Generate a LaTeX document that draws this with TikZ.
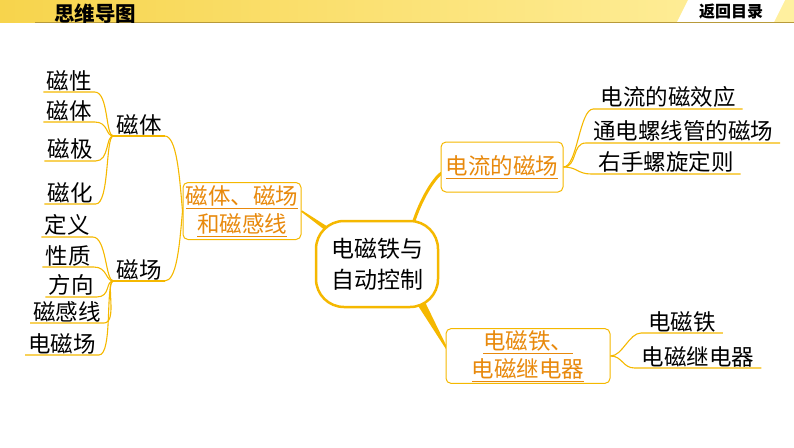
\documentclass[tikz,border=0pt]{standalone}
\usepackage{fontspec}
\setmainfont{Noto Sans CJK SC}
\usetikzlibrary{positioning, calc, backgrounds}
\definecolor{gold}{HTML}{F5B800}
\definecolor{bandL}{HTML}{F7D44C}
\definecolor{bandR}{HTML}{FFF0A0}
\definecolor{txtorange}{HTML}{E8890C}
\definecolor{bandline}{HTML}{B89A3A}

\tikzset{
  leaf/.style={font=\fontsize{22.5}{24}\selectfont, inner xsep=3pt, inner ysep=1pt, anchor=south},
  rleaf/.style={leaf, inner xsep=7pt},
  topic/.style={draw=gold, line width=1pt, rounded corners=5pt, fill=white, align=center,
    text=txtorange, font=\fontsize{22.5}{28}\selectfont, inner sep=2pt},
  twig/.style={draw=gold, line width=1.1pt},
  branch/.style={fill=gold}
}

\begin{document}
\begin{tikzpicture}[x=1pt, y=-1pt]
\useasboundingbox (0,0) rectangle (794,447);

% header
\shade[left color=bandL, right color=bandR] (0,0) rectangle (794,22);
\fill[white] (677,22) -- (688,0) -- (785,0) -- (774,22) -- cycle;
\draw[bandline, line width=1pt] (35,22.5) -- (794,22.5);
\node[font=\fontsize{20.5}{21}\selectfont\bfseries, anchor=base] (title) at (95,21.5) {思维导图};
\node[font=\fontsize{16}{16}\selectfont\bfseries, anchor=base] (back) at (731,17.5) {返回目录};

% centre
\node[draw=gold, line width=2.5pt, rounded corners=28pt, fill=white, minimum width=122pt,
  minimum height=86pt, align=center, font=\fontsize{23}{31}\selectfont] (core) at (377,264)
  {电磁铁与\\自动控制};

% main topics
\node[topic, minimum width=118pt, minimum height=57pt] (cigan) at (242,211)
  {\underline{磁体、磁场}\\\underline{和磁感线}};
\node[topic, minimum width=122pt, minimum height=50pt] (dlcc) at (502,167)
  {\underline{电流的磁场}};
\node[topic, minimum width=164pt, minimum height=54pt] (dct) at (528,356)
  {\underline{电磁铁、}\\\underline{电磁继电器}};

% left: sub topics
\node[leaf] (ct) at (139,136) {磁体};
\node[leaf] (cc) at (139,281) {磁场};

% left: leaves of 磁体
\node[leaf] (mx) at (69,92) {磁性};
\node[leaf] (mt) at (69,122) {磁体};
\node[leaf] (mj) at (70,161) {磁极};
\node[leaf] (mh) at (70,204) {磁化};

% left: leaves of 磁场
\node[leaf] (dy) at (67,237) {定义};
\node[leaf] (xz) at (68,267) {性质};
\node[leaf] (fx) at (71,297) {方向};
\node[leaf] (gx) at (67,323) {磁感线};
\node[leaf] (dcc) at (62,355) {电磁场};

% right leaves
\node[rleaf] (xy) at (668,109) {电流的磁效应};
\node[rleaf] (lxg) at (683,143) {通电螺线管的磁场};
\node[rleaf] (ys) at (666,174) {右手螺旋定则};
\node[rleaf] (dt) at (682,333) {电磁铁};
\node[rleaf] (jdq) at (698,368) {电磁继电器};

\begin{scope}[on background layer]
% thick branches from the centre
\fill[branch] ($(core.center)!5pt!90:(cigan.east)$) -- ($(cigan.east)!0.8pt!-90:(core.center)$)
  -- ($(cigan.east)!0.8pt!90:(core.center)$) -- ($(core.center)!5pt!-90:(cigan.east)$) -- cycle;
\coordinate (dcin) at ($(core.south east)+(-22,-12)$);
\coordinate (dcout) at ($(dct.west)+(2,-6)$);
\fill[branch] ($(dcin)!4.5pt!90:(dcout)$) -- ($(dcout)!0.8pt!-90:(dcin)$)
  -- ($(dcout)!0.8pt!90:(dcin)$) -- ($(dcin)!4.5pt!-90:(dcout)$) -- cycle;
\draw[gold, line width=3pt] ($(core.north)+(36,4)$) .. controls +(8,-25) and +(-8,6) .. ($(dlcc.west)+(1,6)$);
\end{scope}

% left twigs
\draw[twig] (ct.south east) .. controls +(12,0) and +(-3,-35) .. (cigan.west);
\draw[twig] (cc.south east) .. controls +(12,0) and +(-3,35) .. (cigan.west);
\draw[twig] (ct.south west) -- (ct.south east);
\draw[twig] (cc.south west) -- (cc.south east);
\foreach \n in {mx, mt, mj, mh}
  \draw[twig] (ct.south west) .. controls +(-8,0) and +(14,0) .. (\n.south east) -- (\n.south west);
\foreach \n in {dy, xz, fx, gx, dcc}
  \draw[twig] (cc.south west) .. controls +(-8,0) and +(14,0) .. (\n.south east) -- (\n.south west);

% right twigs
\foreach \n in {xy, lxg, ys}
  \draw[twig] (dlcc.east) .. controls +(14,0) and +(-14,0) .. (\n.south west) -- (\n.south east);
\foreach \n in {dt, jdq}
  \draw[twig] (dct.east) .. controls +(12,0) and +(-12,0) .. (\n.south west) -- (\n.south east);
\end{tikzpicture}
\end{document}
